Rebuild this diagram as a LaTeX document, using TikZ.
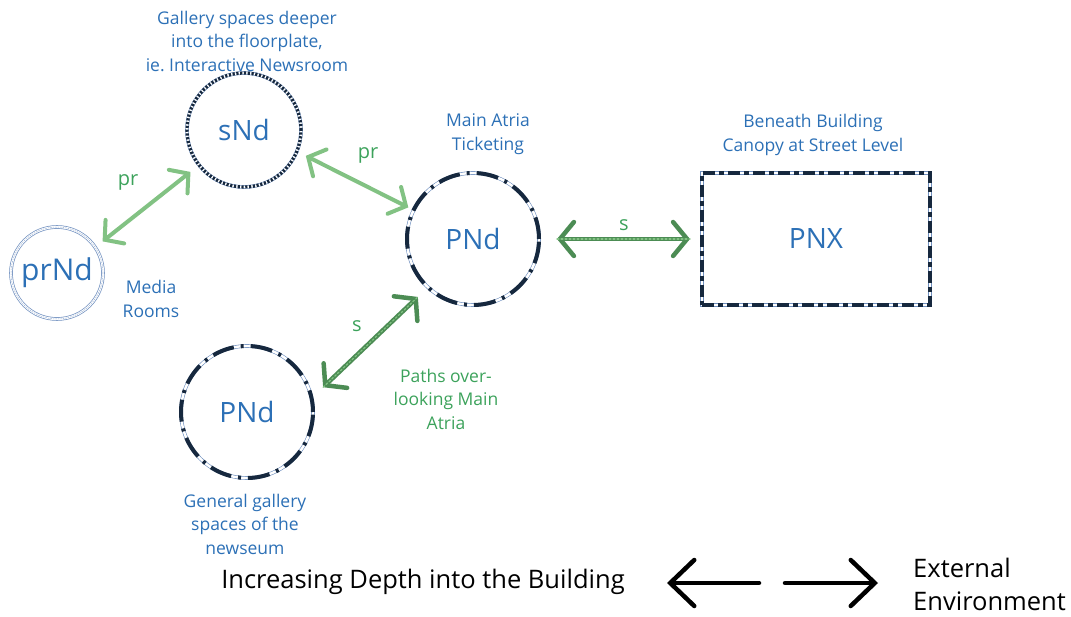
\documentclass[tikz,border=0pt]{standalone}
\usepackage{fontspec}
\setmainfont{Open Sans}
\usetikzlibrary{arrows.meta}

\definecolor{navy}{HTML}{16283E}
\definecolor{ringlight}{HTML}{6F8FBF}
\definecolor{nodeblue}{HTML}{2C70B6}
\definecolor{labgreen}{HTML}{3CA25B}
\definecolor{prgreen}{HTML}{82C283}
\definecolor{sgreen}{HTML}{4C8C54}

\tikzset{
  lab/.style={text=nodeblue, font=\fontsize{17.5}{23.5}\selectfont, align=center, inner sep=0pt},
  greenlab/.style={lab, text=labgreen},
  linklab/.style={greenlab, font=\fontsize{20}{20}\selectfont},
  nodetext/.style={text=nodeblue, font=\fontsize{28}{28}\selectfont},
  primring/.style={nodetext, circle, minimum size=132pt, inner sep=0pt, outer sep=0pt,
    draw=ringlight, line width=0.6pt, double=white, double distance=2.4pt,
    postaction={draw=navy, line width=4pt, dash pattern=on 22pt off 7pt on 3pt off 7pt}},
  dotring/.style={nodetext, circle, minimum size=114pt, inner sep=0pt, outer sep=0pt,
    draw=ringlight, line width=0.6pt, double=white, double distance=2.4pt,
    postaction={draw=navy, line width=3.2pt, dash pattern=on 2.2pt off 1.6pt}},
  thinring/.style={nodetext, circle, minimum size=92pt, inner sep=0pt, outer sep=0pt,
    draw=ringlight, line width=0.7pt, double=white, double distance=2.2pt,
    postaction={draw=ringlight!70, line width=0.5pt, dash pattern=on 1.5pt off 1pt}},
  extbox/.style={nodetext, rectangle, minimum width=228pt, minimum height=132pt,
    inner sep=0pt, outer sep=0pt,
    draw=ringlight, line width=0.6pt, double=white, double distance=2.4pt,
    postaction={draw=navy, line width=4.5pt, dash pattern=on 12pt off 4pt on 5pt off 4pt}},
  prlink/.style={draw=prgreen, line width=4pt, line cap=round,
    {Straight Barb[length=13pt,width=30pt,line cap=round]}-{Straight Barb[length=13pt,width=30pt,line cap=round]}},
  slink/.style={draw=sgreen, line width=4.5pt, line cap=round,
    {Straight Barb[length=14pt,width=34pt,line cap=round]}-{Straight Barb[length=14pt,width=34pt,line cap=round]},
    postaction={draw=prgreen, line width=1.2pt, dash pattern=on 2pt off 2pt, -}},
  blackarrow/.style={draw=black, line width=4.5pt, line cap=round,
    -{Straight Barb[length=24pt,width=46pt,line cap=round]}},
  legend/.style={font=\fontsize{25.5}{33}\selectfont, inner sep=0pt},
}

\begin{document}
\begin{tikzpicture}[x=1pt, y=-1pt]
  \useasboundingbox (0,0) rectangle (1071,617);

  % spaces
  \node[dotring]  (snd)    at (244,130) {sNd};
  \node[thinring, font=\fontsize{30}{30}\selectfont] (prnd) at (57,273) {prNd};
  \node[primring] (pnd)    at (473,239) {PNd};
  \node[primring] (pndlow) at (247,412) {PNd};
  \node[extbox]   (pnx)    at (816,239) {PNX};

  % permeability links
  \draw[prlink, shorten <=9.5pt, shorten >=11pt] (prnd.34) -- (snd.218);
  \draw[prlink, shorten <=10pt, shorten >=6pt] (snd.-22) -- (pnd.154.5);
  \draw[slink, shorten <=18pt, shorten >=12pt] (pnd.east) -- (pnx.west);
  \draw[slink, shorten <=16pt, shorten >=14pt] (pndlow.12.5) -- (pnd.227);

  % link labels
  \node[linklab] (lpr1) at (128,182) {pr};
  \node[linklab] (lpr2) at (368,155) {pr};
  \node[linklab] (ls1)  at (624,225) {s};
  \node[linklab] (ls2)  at (357,326) {s};

  % descriptions
  \node[lab] (dsnd)  at (247,41)  {Gallery spaces deeper\\into the floorplate,\\ie.\ Interactive Newsroom};
  \node[lab] (dpnd)  at (488,134) {Main Atria\\Ticketing};
  \node[lab] (dpnx)  at (813,135) {Beneath Building\\Canopy at Street Level};
  \node[lab] (dprnd) at (151,299) {Media\\Rooms};
  \node[greenlab] (dpath) at (446,399) {Paths over-\\looking Main\\Atria};
  \node[lab] (dlow)  at (245,524) {General gallery\\spaces of the\\newseum};

  % depth legend
  \node[legend] (depth) at (423,582) {Increasing Depth into the Building};
  \node[legend, align=left, anchor=west] (ext) at (913,584) {External\\Environment};
  \coordinate (lt) at (759,583);
  \coordinate (lh) at (667,583);
  \coordinate (rt) at (785,583);
  \coordinate (rh) at (878,583);
  \draw[blackarrow] (lt) -- (lh);
  \draw[blackarrow] (rt) -- (rh);
\end{tikzpicture}
\end{document}
